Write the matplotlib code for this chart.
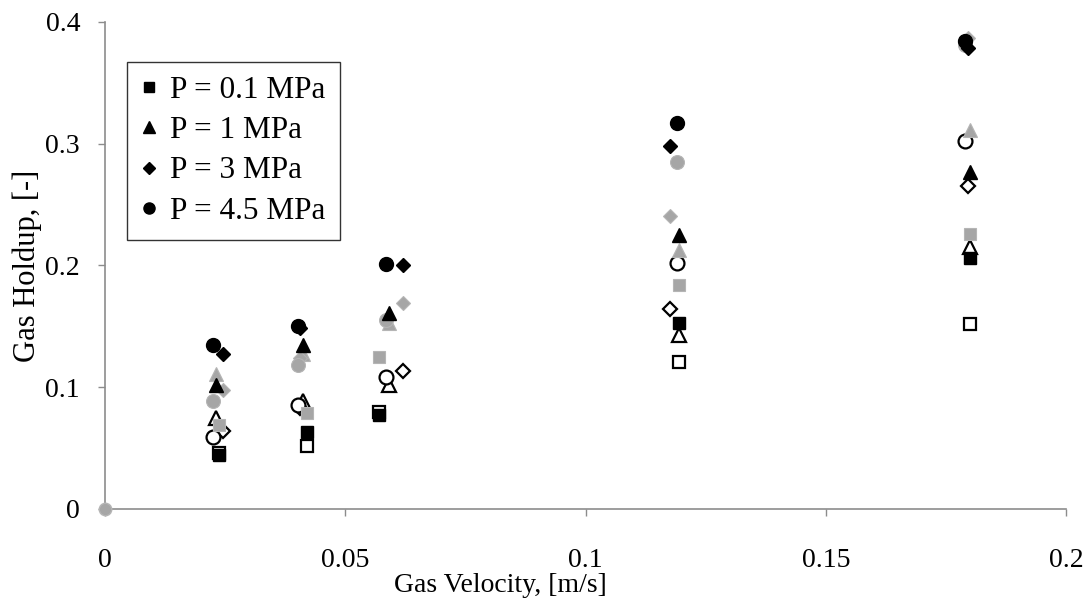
import matplotlib
matplotlib.use("Agg")
import matplotlib.pyplot as plt
from matplotlib.lines import Line2D

plt.rcParams['font.family'] = ['Liberation Serif', 'DejaVu Serif']

# Gas velocity [m/s] per series (5 operating points each)
x_sq = [0.0237, 0.0420, 0.0570, 0.1195, 0.1800]
x_tr = [0.0232, 0.0412, 0.0592, 0.1195, 0.1800]
x_di = [0.0245, 0.0405, 0.0620, 0.1175, 0.1795]
x_ci = [0.0225, 0.0402, 0.0585, 0.1190, 0.1790]

# Black filled series (legend)
b_sq = [0.044, 0.063, 0.077, 0.153, 0.206]
b_tr = [0.102, 0.135, 0.161, 0.225, 0.277]
b_di = [0.127, 0.149, 0.200, 0.298, 0.379]
b_ci = [0.135, 0.150, 0.201, 0.317, 0.384]

# Open series
o_sq = [0.046, 0.052, 0.080, 0.121, 0.152]
o_tr = [0.075, 0.089, 0.102, 0.143, 0.215]
o_di = [0.064, 0.083, 0.113, 0.164, 0.265]
o_ci = [0.059, 0.085, 0.108, 0.202, 0.302]

# Grey series
g_sq = [0.069, 0.079, 0.125, 0.184, 0.226]
g_tr = [0.111, 0.127, 0.153, 0.213, 0.311]
g_di = [0.098, 0.124, 0.169, 0.241, 0.387]
g_ci = [0.089, 0.118, 0.155, 0.285, 0.381]

origin_x = [0.0]
origin_y = [0.0]

labels = ["P = 0.1 MPa", "P = 1 MPa", "P = 3 MPa", "P = 4.5 MPa"]
xticks = [0, 0.05, 0.1, 0.15, 0.2]
xticklabels = ["0", "0.05", "0.1", "0.15", "0.2"]
yticks = [0, 0.1, 0.2, 0.3, 0.4]
yticklabels = ["0", "0.1", "0.2", "0.3", "0.4"]

fig = plt.figure(figsize=(10.87, 6.02), dpi=100)
ax = fig.add_axes([0.0966, 0.1545, 0.8841, 0.809])

mk = {'sq': ('s', 8.5), 'tr': ('^', 10), 'di': ('D', 7.5), 'ci': ('o', 10)}
xs = {'sq': x_sq, 'tr': x_tr, 'di': x_di, 'ci': x_ci}

grey = '#a6a6a6'
for key, ys in [('sq', o_sq), ('tr', o_tr), ('di', o_di), ('ci', o_ci)]:
    m, s = mk[key]
    ax.plot(xs[key], ys, linestyle='none', marker=m, markersize=s,
            markerfacecolor='white', markeredgecolor='black', markeredgewidth=1.6, zorder=3)
for key, ys in [('sq', g_sq), ('tr', g_tr), ('di', g_di), ('ci', g_ci)]:
    m, s = mk[key]
    ax.plot(xs[key], ys, linestyle='none', marker=m, markersize=s,
            markerfacecolor=grey, markeredgecolor='#b5b5b5', markeredgewidth=0.8, zorder=4)
for key, ys, lab in [('sq', b_sq, labels[0]), ('tr', b_tr, labels[1]),
                     ('di', b_di, labels[2]), ('ci', b_ci, labels[3])]:
    m, s = mk[key]
    ax.plot(xs[key], ys, linestyle='none', marker=m, markersize=s,
            markerfacecolor='black', markeredgecolor='black', label=lab, zorder=5)
ax.plot(origin_x, origin_y, linestyle='none', marker='o', markersize=9,
        markerfacecolor=grey, markeredgecolor='#b5b5b5', zorder=6, clip_on=False)

ax.set_xlim(0, 0.2)
ax.set_ylim(0, 0.4)
ax.set_xticks(xticks)
ax.set_xticklabels(xticklabels)
ax.set_yticks(yticks)
ax.set_yticklabels(yticklabels)
for sp in ['top', 'right']:
    ax.spines[sp].set_visible(False)
for sp in ['left', 'bottom']:
    ax.spines[sp].set_color('#8c8c8c')
    ax.spines[sp].set_linewidth(1.2)
ax.tick_params(axis='both', colors='#8c8c8c', labelcolor='black', labelsize=20,
               length=5, width=1.0, direction='out')
ax.tick_params(axis='x', pad=23)
ax.tick_params(axis='y', pad=13)

ax.set_xlabel("Gas Velocity, [m/s]", fontsize=20)
ax.xaxis.set_label_coords(0.411, -0.131)
ax.set_ylabel("Gas Holdup, [-]", fontsize=22)
ax.yaxis.set_label_coords(-0.066, 0.5)

leg_handles = [Line2D([], [], linestyle='none', marker=mk[k][0], markersize=mk[k][1] * 0.8,
                      markerfacecolor='black', markeredgecolor='black')
               for k in ['sq', 'tr', 'di', 'ci']]
leg = ax.legend(leg_handles, labels, loc='upper left', bbox_to_anchor=(0.0225, 0.918),
                fontsize=22.5, frameon=True, fancybox=False, edgecolor='black',
                handlelength=0.55, handletextpad=0.4, borderpad=0.45, labelspacing=0.36,
                borderaxespad=0)
leg.get_frame().set_linewidth(1.0)

fig.savefig("out.png", dpi=100)
